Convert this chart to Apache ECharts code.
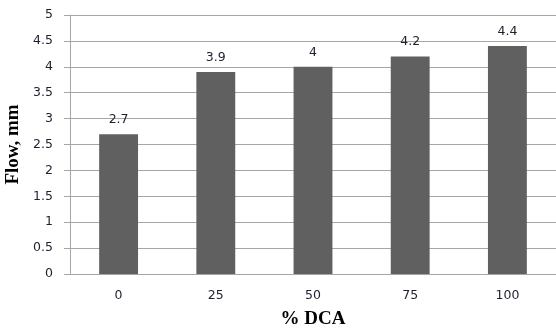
<!DOCTYPE html>
<html><head><meta charset="utf-8">
<script src="https://cdn.jsdelivr.net/npm/echarts@6/dist/echarts.min.js"></script>
<style>html,body{margin:0;padding:0;background:#fff}#c{width:556px;height:330px}</style>
</head><body><div id="c"></div>
<script>
const categories = ['0', '25', '50', '75', '100'];
const flowValues = [2.7, 3.9, 4, 4.2, 4.4];
const yTitle = 'Flow, mm';
const xTitle = '% DCA';

const chart = echarts.init(document.getElementById('c'), null, {renderer: 'canvas'});
chart.setOption({
  animation: false,
  backgroundColor: '#fff',
  grid: {left: 70, right: 0, top: 15, bottom: 56, containLabel: false, outerBoundsMode: 'none'},
  xAxis: {
    type: 'category', data: categories,
    axisLine: {show: true, lineStyle: {color: '#a6a6a6', width: 1}},
    axisTick: {show: false},
    axisLabel: {color: '#1f1f2f', fontFamily: 'DejaVu Sans', fontSize: 12.5, margin: 15},
    name: xTitle, nameLocation: 'middle', nameGap: 36,
    nameTextStyle: {color: '#000', fontFamily: 'Liberation Serif', fontWeight: 'bold', fontSize: 19}
  },
  yAxis: {
    type: 'value', min: 0, max: 5, interval: 0.5,
    axisLine: {show: true, lineStyle: {color: '#a6a6a6', width: 1}},
    axisTick: {show: true, length: 6, lineStyle: {color: '#a6a6a6'}},
    splitLine: {show: true, lineStyle: {color: '#a6a6a6', width: 1}},
    axisLabel: {color: '#1f1f2f', fontFamily: 'DejaVu Sans', fontSize: 12.5, margin: 17},
    name: yTitle, nameLocation: 'middle', nameGap: 42, nameRotate: 90,
    nameTextStyle: {color: '#000', fontFamily: 'Liberation Serif', fontWeight: 'bold', fontSize: 19}
  },
  series: [{
    type: 'bar', data: flowValues, barWidth: '40%',
    itemStyle: {color: '#606060'},
    label: {show: true, position: 'top', distance: 8, color: '#1f1f2f', fontFamily: 'DejaVu Sans', fontSize: 12.5}
  }]
});
</script></body></html>
